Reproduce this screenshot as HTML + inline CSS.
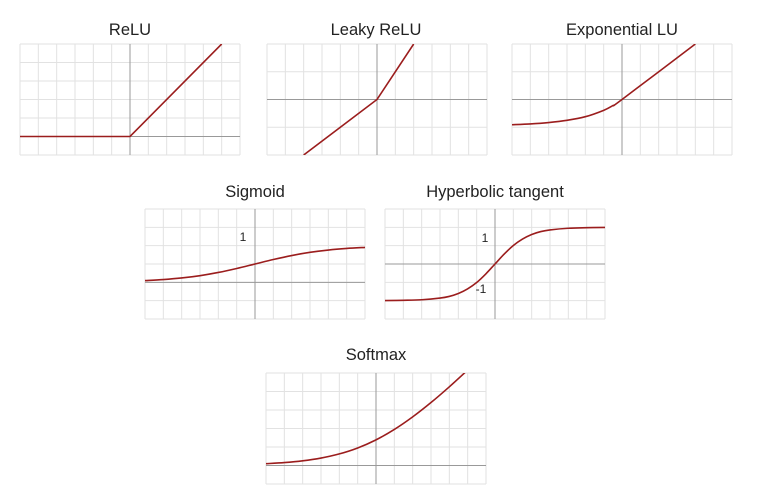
<!DOCTYPE html>
<html><head><meta charset="utf-8"><style>
html,body{margin:0;padding:0;background:#fff;}
svg{display:block;font-family:"Liberation Sans",Arial,sans-serif;}
</style></head><body>
<svg id="c" width="757" height="498" viewBox="0 0 757 498"></svg>
<script>
// Panel data (values in grid cells; y up)
const titles = ["ReLU","Leaky ReLU","Exponential LU","Sigmoid","Hyperbolic tangent","Softmax"];
const reluX = [-6,0,5];
const reluY = [0,0,5];
const leakyX = [-4,0,2];
const leakyY = [-2,0,2];
const eluX = [-6,-5,-4,-3,-2,-1,-0.5,0,4];
const eluY = [-0.91,-0.88,-0.83,-0.75,-0.62,-0.39,-0.22,0,2];
const sigX = [-6,-5,-4,-3,-2,-1,0,1,2,3,4,5,6];
const sigY = [0.095,0.152,0.238,0.364,0.538,0.755,1,1.245,1.462,1.636,1.762,1.848,1.905];
const tanhX = [-6,-5,-4,-3,-2.5,-2,-1.5,-1,-0.5,0,0.5,1,1.5,2,2.5,3,4,5,6];
const tanhY = [-1.995,-1.98,-1.95,-1.86,-1.77,-1.61,-1.36,-1.01,-0.54,0,0.54,1.01,1.36,1.61,1.77,1.86,1.95,1.98,1.995];
const softX = [-6,-5,-4,-3,-2,-1,0,1,2,3,4,5];
const softY = [0.097,0.158,0.254,0.403,0.627,0.948,1.386,1.948,2.627,3.403,4.254,5.158];
const tickLabels = ["1","1","-1"];

const panels = [
 {name:"relu",left:20,top:44,w:220,h:111,rows:6,ox:6,oy:5,xs:reluX,ys:reluY,tx:130,ty:35},
 {name:"leaky-relu",left:267,top:44,w:220,h:111,rows:4,ox:6,oy:2,xs:leakyX,ys:leakyY,tx:376,ty:35},
 {name:"elu",left:512,top:44,w:220,h:111,rows:4,ox:6,oy:2,xs:eluX,ys:eluY,tx:622,ty:35},
 {name:"sigmoid",left:145,top:209,w:220,h:110,rows:6,ox:6,oy:4,xs:sigX,ys:sigY,tx:255,ty:197},
 {name:"tanh",left:385,top:209,w:220,h:110,rows:6,ox:6,oy:3,xs:tanhX,ys:tanhY,tx:495,ty:197},
 {name:"softmax",left:266,top:373,w:220,h:111,rows:6,ox:6,oy:5,xs:softX,ys:softY,tx:376,ty:360}
];
const NS="http://www.w3.org/2000/svg";
const svg=document.getElementById("c");
function mk(t,a,p){const e=document.createElementNS(NS,t);for(const k in a)e.setAttribute(k,a[k]);(p||svg).appendChild(e);return e;}
function smoothPath(pts){
 if(pts.length<3) return "M"+pts.map(p=>p.join(",")).join(" L");
 let d="M"+pts[0][0]+","+pts[0][1];
 for(let i=0;i<pts.length-1;i++){
  const p0=pts[i-1]||pts[i],p1=pts[i],p2=pts[i+1],p3=pts[i+2]||p2;
  const c1=[p1[0]+(p2[0]-p0[0])/6,p1[1]+(p2[1]-p0[1])/6];
  const c2=[p2[0]-(p3[0]-p1[0])/6,p2[1]-(p3[1]-p1[1])/6];
  d+=` C${c1[0]},${c1[1]} ${c2[0]},${c2[1]} ${p2[0]},${p2[1]}`;
 }
 return d;
}
panels.forEach((p,i)=>{
 const g=mk("g",{});
 
 
 const cw=p.w/12, rh=p.h/p.rows;
 const sx=x=>p.left+(p.ox+x)*cw, sy=y=>p.top+(p.oy-y)*rh;
 const t=mk("text",{x:p.tx,y:p.ty,"text-anchor":"middle","font-size":"16.5",fill:"#222"},g);
 t.textContent=titles[i];
 
 
 for(let c=0;c<=12;c++) mk("line",{x1:p.left+c*cw,x2:p.left+c*cw,y1:p.top,y2:p.top+p.h,stroke:"#e2e2e2","stroke-width":1},g);
 for(let r=0;r<=p.rows;r++) mk("line",{x1:p.left,x2:p.left+p.w,y1:p.top+r*rh,y2:p.top+r*rh,stroke:"#e2e2e2","stroke-width":1},g);
 const ax=mk("line",{x1:sx(0),x2:sx(0),y1:p.top,y2:p.top+p.h,stroke:"#999","stroke-width":1},g);
 
 
 const ay=mk("line",{x1:p.left,x2:p.left+p.w,y1:sy(0),y2:sy(0),stroke:"#999","stroke-width":1},g);
 
 
 const cp=mk("clipPath",{id:"cp"+i},g);
 mk("rect",{x:p.left,y:p.top,width:p.w,height:p.h},cp);
 const pts=p.xs.map((x,j)=>[sx(x),sy(p.ys[j])]);
 const d=(p.name==="relu"||p.name==="leaky-relu")?"M"+pts.map(q=>q.join(",")).join(" L"):smoothPath(pts);
 const path=mk("path",{d:d,fill:"none",stroke:"#9b1d1d","stroke-width":1.6,"clip-path":`url(#cp${i})`},g);
 
 
});
const lbls=[[243,241],[485,242],[481,293]];
tickLabels.forEach((s,i)=>{
 const t=mk("text",{x:lbls[i][0],y:lbls[i][1],"font-size":"12",fill:"#222","text-anchor":"middle"});
 t.textContent=s;
 
 
});
</script>
</body></html>
